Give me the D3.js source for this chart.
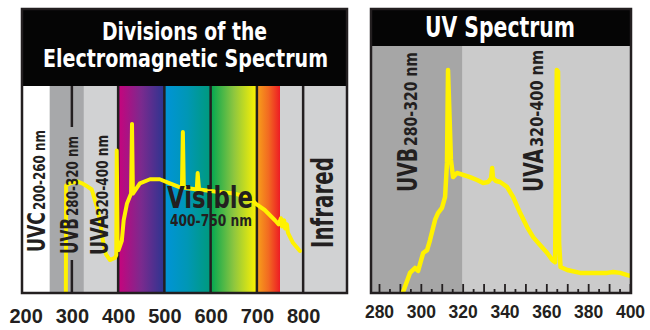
<!DOCTYPE html>
<html><head><meta charset="utf-8">
<script src="https://cdn.jsdelivr.net/npm/d3@7"></script>
<style>
html,body{margin:0;padding:0;background:#fff;}
svg{display:block;}
</style></head>
<body>
<script>
// ---------- DATA ----------
// Left panel: electromagnetic spectrum (nm) and relative intensity (0-100)
const leftNm  = [287, 287.5, 296, 311, 322, 330, 343, 354, 360.5, 367, 373.5, 382, 393, 396, 397, 399, 401, 408, 412, 419, 428, 430, 432, 447, 469, 490, 512, 534, 538, 540, 542, 570, 572, 575, 609, 652, 685, 698, 717, 739, 747, 752, 754, 759, 761, 765, 767, 778, 793];
const leftVal = [0, 52, 53, 54, 53, 52, 50, 41.5, 35, 25, 18.5, 15.6, 16.6, 18, 69, 23, 20.5, 25, 35, 43, 48, 82, 48, 53, 55, 55, 53, 51, 51, 78, 51, 50, 58, 50, 49, 48, 46, 43, 40, 35, 33, 36, 32, 35, 31, 33, 29, 24, 20];
// Left panel bands (nm)
const bandStart = [190, 252, 326, 400, 500, 600, 700, 750, 800];
const bandEnd   = [252, 326, 400, 500, 600, 700, 750, 800, 897];
const bandLines = [400, 500, 600, 700, 800];
const leftTicks = [200, 300, 400, 500, 600, 700, 800];

// Right panel: UV spectrum
const rightNm  = [291.5, 294.8, 297.2, 298.7, 301.1, 303.0, 304.4, 306.8, 308.2, 310.1, 311.6, 312.5, 313.0, 314.4, 315.4, 317.3, 320.2, 323.5, 326.9, 329.8, 332.2, 333.6, 334.1, 334.5, 336.0, 337.9, 341.2, 344.1, 347.5, 350.8, 353.7, 357.0, 360.4, 362.8, 364.2, 365.0, 365.6, 366.1, 366.8, 370.0, 376.2, 382.4, 389.1, 392.0, 395.3, 398.7, 400.6];
const rightVal = [0, 7.8, 9.8, 8.6, 15.9, 17.1, 21.2, 29.4, 32.2, 34.3, 38.8, 52.7, 90.6, 53.9, 46.9, 48.6, 47.8, 46.9, 45.7, 44.5, 44.9, 46.5, 50.6, 46.5, 45.3, 44.9, 42.9, 38.8, 32.2, 26.5, 22.4, 19.2, 15.9, 13.1, 12.2, 90.6, 90.0, 20, 10.2, 9.0, 7.8, 7.8, 7.8, 8.2, 7.8, 6.9, 6.5];
const rightBandStart = [276, 320];
const rightBandEnd   = [320, 401];
const rightMajor = [280, 300, 320, 340, 360, 380, 400];

// Texts
const leftTitle = ["Divisions of the", "Electromagnetic Spectrum"];
const rightTitle = "UV Spectrum";
const leftLabels = [["UVC", "200-260 nm"], ["UVB", "280-320 nm"], ["UVA", "320-400 nm"]];
const rightLabels = [["UVB", "280-320 nm"], ["UVA", "320-400 nm"]];

// ---------- STYLE ----------
const INK = "#231f20", YEL = "#fff200";
const COND = "'Liberation Sans Narrow','DejaVu Sans Condensed','Arial Narrow','Roboto Condensed',sans-serif";
const SANS = "'Liberation Sans',Arial,'DejaVu Sans',sans-serif";
const bandFill = ["#ffffff", "#a7a8aa", "#d1d2d3", "url(#g1)", "url(#g2)", "url(#g3)", "url(#g4)", "#d1d2d3", "#d1d2d3"];
const rightBandFill = ["#a6a6a6", "#cbcbcb"];
const grads = [
  ["g1", ["#c8037d", "#7b2a8e", "#2b3590"]],
  ["g2", ["#0094d8", "#0097b5", "#009a7c"]],
  ["g3", ["#00a651", "#8dc63f", "#fff200"]],
  ["g4", ["#f7a11a", "#f26a21", "#ed1c24"]]
];

const svg = d3.select("body").append("svg").attr("width", 650).attr("height", 330);
const defs = svg.append("defs");
grads.forEach(([id, cols]) => {
  const g = defs.append("linearGradient").attr("id", id).attr("x1", 0).attr("x2", 1).attr("y1", 0).attr("y2", 0);
  cols.forEach((c, i) => g.append("stop").attr("offset", i / (cols.length - 1)).attr("stop-color", c));
});

function txt(g, s, x, y, size, len, opts = {}) {
  const t = g.append("text").text(s)
    .attr("font-family", opts.family || COND).attr("font-weight", "bold")
    .attr("font-size", size).attr("fill", opts.fill || INK)
    .attr("textLength", len).attr("lengthAdjust", "spacingAndGlyphs");
  if (opts.rot) {
    t.attr("transform", `translate(${x},${y}) rotate(-90)`);
  } else {
    t.attr("x", x).attr("y", y);
  }
  return t;
}

// ---------- LEFT PANEL ----------
const L = {x0: 21, x1: 348, top: 8, hb: 86, bottom: 292};
const xL = d3.scaleLinear().domain([190, 897]).range([L.x0, L.x1]);
const yL = d3.scaleLinear().domain([0, 100]).range([L.bottom, 87]);
const gl = svg.append("g");
defs.append("clipPath").attr("id", "clipL").append("rect")
  .attr("x", L.x0).attr("y", L.hb).attr("width", L.x1 - L.x0).attr("height", L.bottom - L.hb);

gl.selectAll("rect.band").data(bandStart).join("rect")
  .attr("x", (d) => xL(d)).attr("y", L.hb)
  .attr("width", (d, i) => xL(bandEnd[i]) - xL(d)).attr("height", L.bottom - L.hb)
  .attr("fill", (d, i) => bandFill[i]);

gl.selectAll("line.bl").data(bandLines).join("line")
  .attr("x1", d => xL(d)).attr("x2", d => xL(d)).attr("y1", L.hb).attr("y2", L.bottom)
  .attr("stroke", INK).attr("stroke-width", 2.5);
// partial 300 nm marker (interrupted by UVB label)
[[L.hb, 127], [260, L.bottom]].forEach(([a, b]) =>
  gl.append("line").attr("x1", xL(300)).attr("x2", xL(300)).attr("y1", a).attr("y2", b)
    .attr("stroke", INK).attr("stroke-width", 2.5));

gl.append("path").datum(leftNm.map((d, i) => [d, leftVal[i]]))
  .attr("clip-path", "url(#clipL)")
  .attr("d", d3.line().x(d => xL(d[0])).y(d => yL(d[1])))
  .attr("fill", "none").attr("stroke", YEL).attr("stroke-width", 4)
  .attr("stroke-linejoin", "round").attr("stroke-linecap", "round");

// header
gl.append("rect").attr("x", L.x0).attr("y", L.top).attr("width", L.x1 - L.x0).attr("height", L.hb - L.top).attr("fill", "#050505");
txt(gl, leftTitle[0], 102, 40, 25, 165, {fill: "#fff"});
txt(gl, leftTitle[1], 43, 67, 25, 285, {fill: "#fff"});
// border
gl.append("rect").attr("x", L.x0 + 1).attr("y", L.top + 1).attr("width", L.x1 - L.x0 - 2).attr("height", L.bottom - L.top)
  .attr("fill", "none").attr("stroke", INK).attr("stroke-width", 2.5);

// rotated labels
const leftLabPos = [[45, 252, 40, 210, 80], [78, 254, 36, 216, 80], [108, 255, 40, 216, 81]];
leftLabels.forEach((lab, i) => {
  const p = leftLabPos[i];
  txt(gl, lab[0], p[0], p[1], 24, p[2], {rot: true});
  txt(gl, lab[1], p[0], p[3], 16, p[4], {rot: true});
});
txt(gl, "Infrared", 333, 248, 30, 91, {rot: true});
txt(gl, "Visible", 167, 208, 31, 86);
txt(gl, "400-750 nm", 170, 226, 16.5, 82);

// axis
const axL = gl.append("g").attr("transform", `translate(0,${L.bottom})`)
  .call(d3.axisBottom(xL).tickValues(leftTicks).tickSize(0).tickFormat(d3.format("d")));
axL.select(".domain").remove();
axL.selectAll("text").attr("y", 31).attr("dy", null)
  .attr("font-family", SANS).attr("font-weight", "bold").attr("font-size", 20).attr("fill", INK);

// ---------- RIGHT PANEL ----------
const R = {x0: 370, x1: 632, top: 8, hb: 46, bottom: 292};
const xR = d3.scaleLinear().domain([280, 400]).range([379, 630]);
const yR = d3.scaleLinear().domain([0, 100]).range([R.bottom, 47]);
const gr = svg.append("g");
defs.append("clipPath").attr("id", "clipR").append("rect")
  .attr("x", R.x0 + 1).attr("y", R.hb).attr("width", R.x1 - R.x0 - 2).attr("height", R.bottom - R.hb);

gr.selectAll("rect.band").data(rightBandStart).join("rect")
  .attr("x", d => Math.max(R.x0, xR(d))).attr("y", R.hb)
  .attr("width", (d, i) => Math.min(R.x1, xR(rightBandEnd[i])) - Math.max(R.x0, xR(d)))
  .attr("height", R.bottom - R.hb).attr("fill", (d, i) => rightBandFill[i]);

// ticks
const minor = gr.append("g").attr("transform", `translate(0,${R.bottom})`)
  .call(d3.axisBottom(xR).tickValues(d3.range(285, 400, 10)).tickSize(-3).tickFormat(""));
const major = gr.append("g").attr("transform", `translate(0,${R.bottom})`)
  .call(d3.axisBottom(xR).tickValues(d3.range(280, 401, 10)).tickSize(-8)
    .tickFormat(d => rightMajor.includes(d) ? d : ""));
[minor, major].forEach(a => {
  a.select(".domain").remove();
  a.selectAll("line").attr("stroke", INK).attr("stroke-width", 1.8);
});
major.selectAll("text").attr("y", 26).attr("dy", null)
  .attr("font-family", SANS).attr("font-weight", "bold").attr("font-size", 17.5).attr("fill", INK);

gr.append("path").datum(rightNm.map((d, i) => [d, rightVal[i]]))
  .attr("clip-path", "url(#clipR)")
  .attr("d", d3.line().x(d => xR(d[0])).y(d => yR(d[1])))
  .attr("fill", "none").attr("stroke", YEL).attr("stroke-width", 4.5)
  .attr("stroke-linejoin", "round").attr("stroke-linecap", "round");

gr.append("rect").attr("x", R.x0).attr("y", R.top).attr("width", R.x1 - R.x0).attr("height", R.hb - R.top).attr("fill", "#050505");
txt(gr, rightTitle, 425, 37, 29, 150, {fill: "#fff"});
gr.append("rect").attr("x", R.x0 + 1).attr("y", R.top + 1).attr("width", R.x1 - R.x0 - 2).attr("height", R.bottom - R.top)
  .attr("fill", "none").attr("stroke", INK).attr("stroke-width", 2.5);

const rightLabPos = [[417, 192, 44, 146, 94], [543, 192, 43, 147, 97]];
rightLabels.forEach((lab, i) => {
  const p = rightLabPos[i];
  txt(gr, lab[0], p[0], p[1], 27, p[2], {rot: true});
  txt(gr, lab[1], p[0], p[3], 18, p[4], {rot: true});
});
</script>
</body></html>
